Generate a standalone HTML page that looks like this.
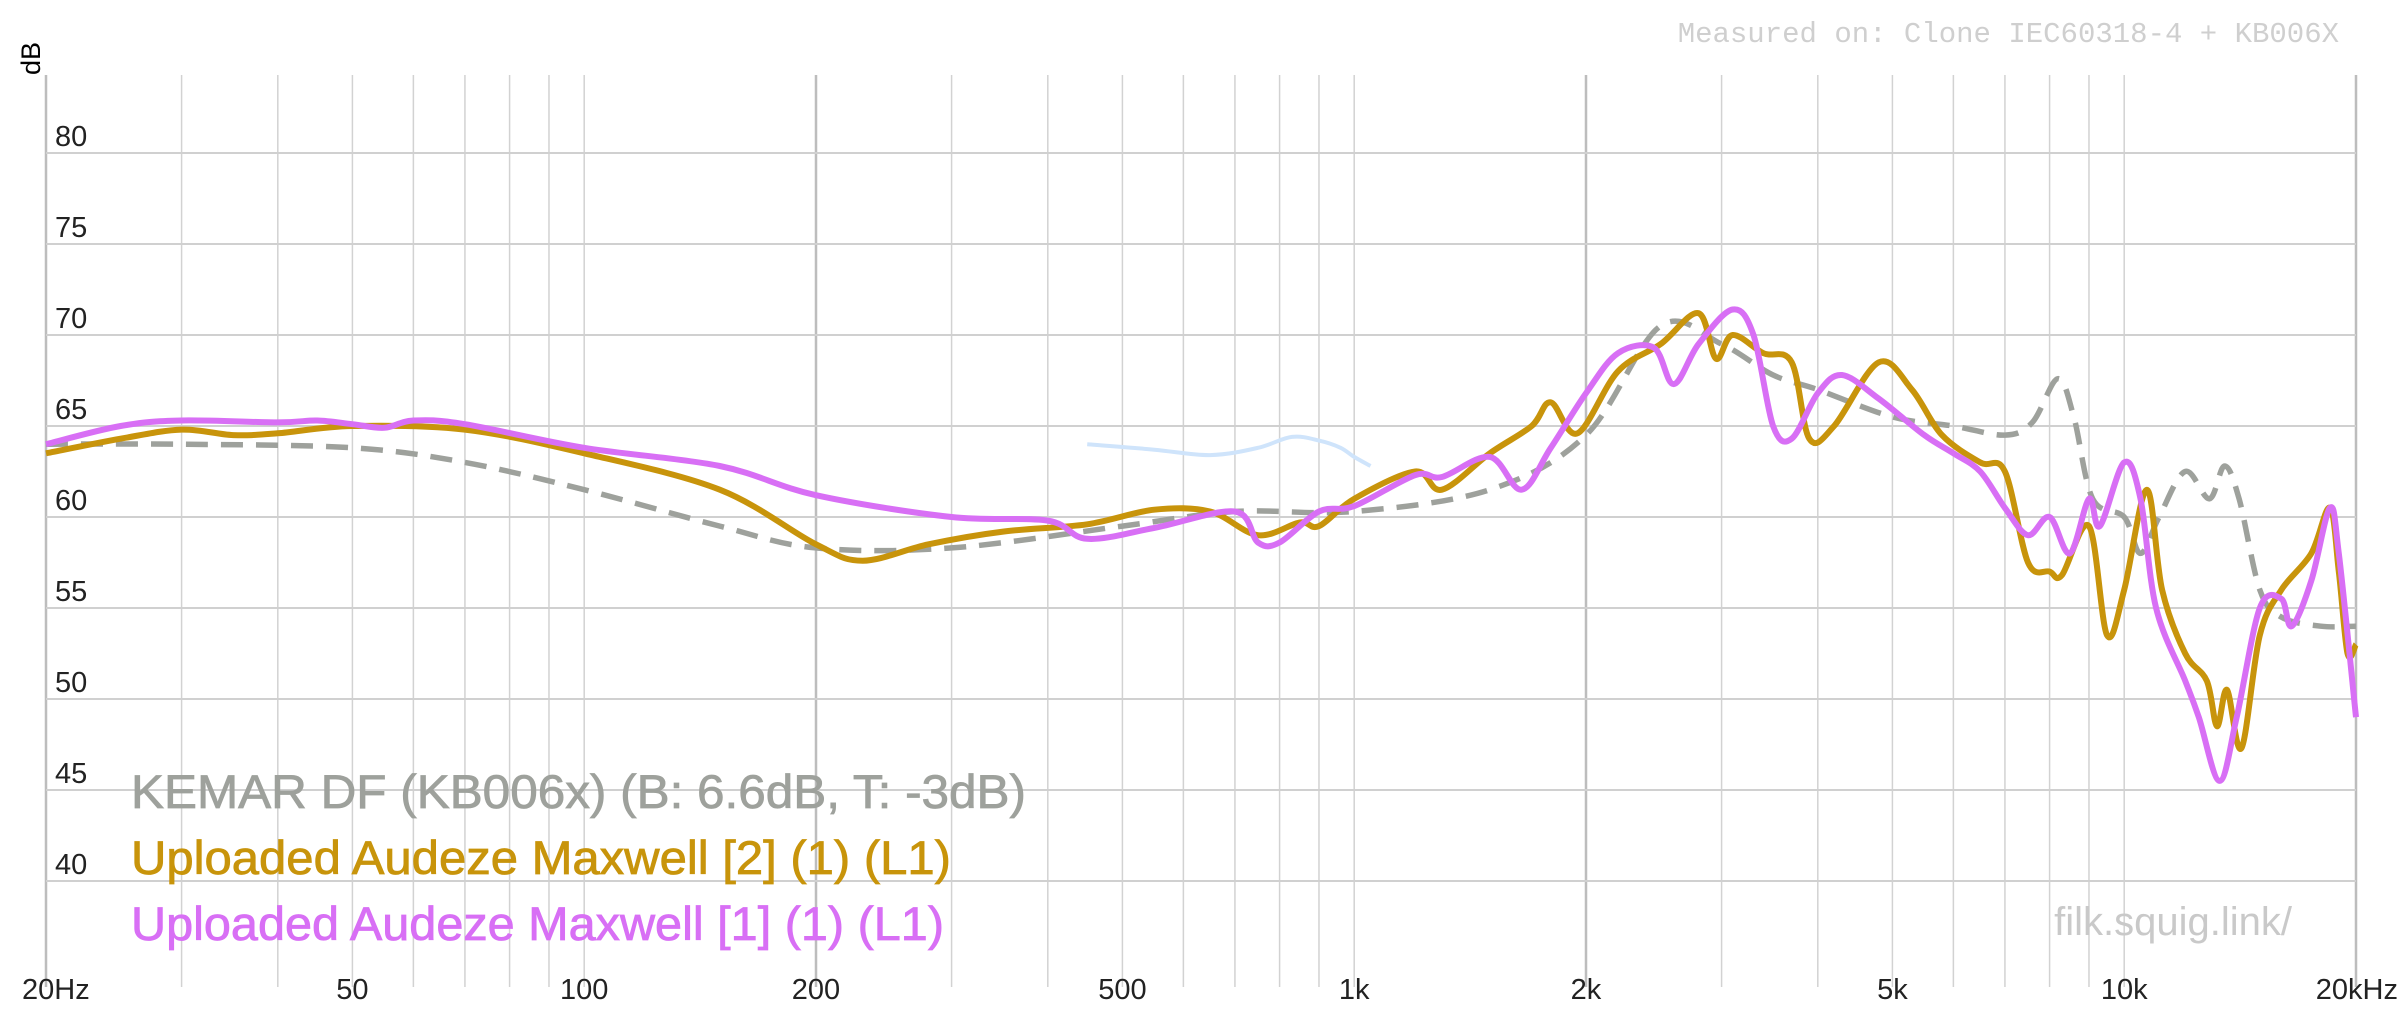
<!DOCTYPE html>
<html><head><meta charset="utf-8"><style>
html,body{margin:0;padding:0;background:#fff;}
svg{display:block;}
text{font-family:"Liberation Sans",sans-serif;}
</style></head><body>
<svg id="s" width="2400" height="1020" viewBox="0 0 2400 1020" xmlns="http://www.w3.org/2000/svg">
<g id="grid"></g>
<text x="2339" y="42" text-anchor="end" font-family="Liberation Mono, monospace" font-size="29" fill="#cfcfcf" style="font-family:'Liberation Mono',monospace">Measured on: Clone IEC60318-4 + KB006X</text>
<text x="0" y="0" font-size="27" fill="#000" transform="translate(40,75) rotate(-90)">dB</text>
<g id="curves"></g>
<g stroke-width="0.8">
<text x="131" y="808" font-size="47" fill="#9ea19c" stroke="#9ea19c" textLength="895" lengthAdjust="spacingAndGlyphs">KEMAR DF (KB006x) (B: 6.6dB, T: -3dB)</text>
<text x="131" y="874" font-size="47" fill="#c8940b" stroke="#c8940b" textLength="820" lengthAdjust="spacingAndGlyphs">Uploaded Audeze Maxwell [2] (1) (L1)</text>
<text x="131" y="940" font-size="47" fill="#d86ff5" stroke="#d86ff5" textLength="813" lengthAdjust="spacingAndGlyphs">Uploaded Audeze Maxwell [1] (1) (L1)</text>
</g>
<text x="2292" y="935" text-anchor="end" font-size="40" fill="#c9c9c9">filk.squig.link/</text>
</svg>
<script>
function X(f){return 46+770*Math.log10(f/20);}
function Y(d){return 153+(80-d)*18.2;}
var g=document.getElementById('grid'),s='';
var fs=[20,30,40,50,60,70,80,90,100,200,300,400,500,600,700,800,900,1000,2000,3000,4000,5000,6000,7000,8000,9000,10000,20000];
fs.forEach(function(f){var maj=(f==20||f==200||f==2000||f==20000);
s+='<line x1="'+X(f)+'" y1="75" x2="'+X(f)+'" y2="987" stroke="'+(maj?'#bdbdbd':'#d2d2d2')+'" stroke-width="'+(maj?2.5:1.5)+'"/>';});
for(var d=80;d>=40;d-=5){s+='<line x1="46" y1="'+Y(d)+'" x2="2356" y2="'+Y(d)+'" stroke="#d0d0d0" stroke-width="2"/>';
s+='<text x="55" y="'+(Y(d)-7)+'" font-size="29" fill="#222">'+d+'</text>';}
var xl=[[20,'20Hz','start',22],[50,'50'],[100,'100'],[200,'200'],[500,'500'],[1000,'1k'],[2000,'2k'],[5000,'5k'],[10000,'10k'],[20000,'20kHz','end',2398]];
xl.forEach(function(a){var x=a[3]!==undefined?a[3]:X(a[0]);s+='<text x="'+x+'" y="999" font-size="29" fill="#222" text-anchor="'+(a[2]||'middle')+'">'+a[1]+'</text>';});
g.innerHTML=s;
function path(pts){var p=pts.map(function(a){return [X(a[0]),Y(a[1])];});
var d='M'+p[0][0].toFixed(1)+' '+p[0][1].toFixed(1);
for(var i=0;i<p.length-1;i++){var p0=p[i-1]||p[i],p1=p[i],p2=p[i+1],p3=p[i+2]||p2;
var c1x=p1[0]+(p2[0]-p0[0])/6,c1y=p1[1]+(p2[1]-p0[1])/6,c2x=p2[0]-(p3[0]-p1[0])/6,c2y=p2[1]-(p3[1]-p1[1])/6;
d+=' C'+c1x.toFixed(1)+' '+c1y.toFixed(1)+' '+c2x.toFixed(1)+' '+c2y.toFixed(1)+' '+p2[0].toFixed(1)+' '+p2[1].toFixed(1);}
return d;}
var blue=[[450,64],[550,63.7],[650,63.4],[750,63.8],[830,64.4],[900,64.2],[960,63.8],[1000,63.3],[1050,62.8]];
var tgt=[[20,64],[30,64],[50,63.8],[70,63],[100,61.5],[150,59.5],[200,58.3],[300,58.3],[500,59.5],[700,60.3],[1000,60.3],[1500,61.5],[2000,64.5],[2500,70.5],[3000,69.5],[3500,67.8],[4000,67],[5000,65.5],[6000,65],[7000,64.5],[7600,65.2],[8200,67.6],[8600,65.5],[9100,61],[10000,60],[10500,58],[11100,60],[12000,62.5],[12900,61],[13500,62.8],[14100,61],[15000,56],[16000,54.5],[18000,54],[20000,54]];
var org=[[20,63.5],[25,64.3],[30,64.8],[35,64.5],[40,64.6],[50,65],[70,64.8],[100,63.5],[150,61.5],[200,58.5],[230,57.6],[280,58.5],[350,59.2],[450,59.6],[550,60.4],[650,60.3],[750,59],[850,59.7],[900,59.5],[1000,61],[1200,62.5],[1300,61.5],[1500,63.5],[1700,65],[1800,66.3],[1950,64.6],[2200,68],[2500,69.5],[2800,71.2],[2950,68.7],[3100,70],[3400,69],[3700,68.5],[3900,64.3],[4200,65],[4800,68.5],[5300,67],[5800,64.5],[6500,63],[7000,62.5],[7500,57.5],[8000,57],[8300,56.8],[9000,59.5],[9500,53.5],[10000,56],[10700,61.5],[11200,56],[12000,52.5],[12800,51],[13200,48.5],[13600,50.5],[14200,47.3],[15000,53.5],[16000,56],[17500,58],[18500,60.5],[19000,57],[19500,52.5],[20000,53]];
var pur=[[20,64],[25,65],[30,65.3],[40,65.2],[45,65.3],[50,65.1],[55,64.9],[60,65.3],[70,65.1],[100,63.8],[150,62.8],[200,61.2],[300,60],[400,59.8],[450,58.8],[550,59.4],[700,60.3],[750,58.6],[800,58.6],[900,60.3],[1000,60.6],[1200,62.3],[1300,62.2],[1500,63.3],[1650,61.5],[1800,63.8],[2000,66.8],[2200,69],[2450,69.3],[2600,67.3],[2800,69.5],[3100,71.4],[3300,70],[3500,65],[3700,64.3],[4000,66.8],[4300,67.8],[4800,66.5],[5500,64.5],[6000,63.5],[6500,62.5],[7000,60.5],[7500,59],[8000,60],[8500,58],[9000,61],[9300,59.5],[10000,63],[10500,61],[11000,55],[12000,51],[12500,49],[13300,45.5],[14000,49],[15000,55],[16000,55.5],[16500,54],[17500,56.5],[18500,60.5],[19000,58],[20000,49]];
var c='<path d="'+path(blue)+'" fill="none" stroke="#cfe4fb" stroke-width="4"/>';
c+='<path d="'+path(tgt)+'" fill="none" stroke="#9ea19c" stroke-width="5.5" stroke-dasharray="22 13"/>';
c+='<path d="'+path(org)+'" fill="none" stroke="#c8940b" stroke-width="6" stroke-linejoin="round"/>';
c+='<path d="'+path(pur)+'" fill="none" stroke="#d86ff5" stroke-width="6" stroke-linejoin="round"/>';
document.getElementById('curves').innerHTML=c;
</script>
</body></html>
